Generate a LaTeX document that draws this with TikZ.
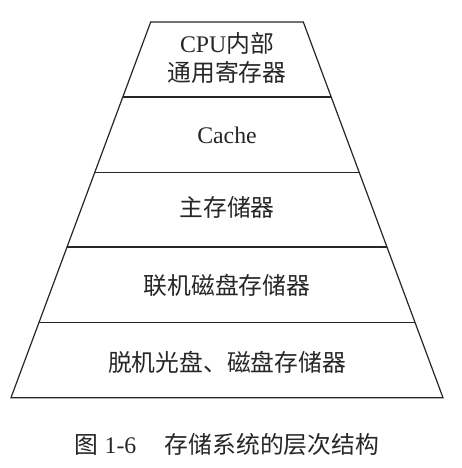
\documentclass[tikz,border=0pt]{standalone}
\usepackage{fontspec}
\setmainfont{Liberation Serif}
\newfontfamily\cjk{Noto Sans CJK SC}
\begin{document}
\begin{tikzpicture}[x=1pt,y=-1pt,
  edge/.style={draw=black!85,line width=1.2pt,line join=miter},
  lbl/.style={font=\fontsize{23.8}{28}\selectfont,inner sep=0pt,text=black!85}]
\useasboundingbox (0,0) rectangle (461,468);
% level corners
\coordinate (L0) at (150.7,22);   \coordinate (R0) at (303.3,22);
\coordinate (L1) at (122.8,97);   \coordinate (R1) at (331.2,97);
\coordinate (L2) at (94.8,172.3); \coordinate (R2) at (359.2,172.3);
\coordinate (L3) at (67.0,247);   \coordinate (R3) at (387.0,247);
\coordinate (L4) at (38.9,322.7); \coordinate (R4) at (415.1,322.7);
\coordinate (L5) at (11.0,397.7); \coordinate (R5) at (443.0,397.7);
\draw[edge] (L0) -- (R0) -- (R5) -- (L5) -- cycle;
\draw[edge] (L1) -- (R1);
\draw[edge] (L2) -- (R2);
\draw[edge] (L3) -- (R3);
\draw[edge] (L4) -- (R4);
% labels
\node[lbl] (t1a) at (227,43) {CPU{\cjk 内部}};
\node[lbl] (t1b) at (227,72) {\cjk 通用寄存器};
\node[lbl] (t2) at (227,135) {Cache};
\node[lbl] (t3) at (227,207) {\cjk 主存储器};
\node[lbl] (t4) at (227,285) {\cjk 联机磁盘存储器};
\node[lbl] (t5) at (227,362) {\cjk 脱机光盘、磁盘存储器};
\node[lbl] (cap) at (227,445) {{\cjk 图} 1-6\hspace{1.2em}{\cjk 存储系统的层次结构}};
\end{tikzpicture}
\end{document}
